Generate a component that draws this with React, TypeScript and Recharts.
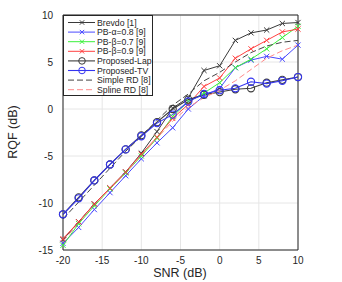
import React from 'react';
import { LineChart, Line, XAxis, YAxis, CartesianGrid, ReferenceArea, Label } from 'recharts';

const snr = [-20, -18, -16, -14, -12, -10, -8, -6, -4, -2, 0, 2, 4, 6, 8, 10];
const brevdo = [-13.9, -12.0, -10.1, -8.4, -6.7, -4.7, -2.4, 0.1, 1.2, 4.1, 4.6, 7.3, 8.1, 8.4, 9.1, 9.2];
const pbAlpha08 = [-14.3, -12.6, -10.7, -8.9, -7.1, -5.3, -3.6, -2.0, 0.0, 1.4, 2.2, 4.4, 5.2, 5.6, 5.3, 6.8];
const pbBeta07 = [-14.5, -12.2, -10.3, -8.5, -6.8, -5.0, -3.1, -0.8, 0.8, 1.7, 2.8, 4.4, 5.3, 6.4, 7.6, 8.8];
const pbBeta09 = [-13.8, -12.0, -10.1, -8.4, -6.7, -4.8, -3.0, -1.0, 0.5, 2.4, 3.3, 5.4, 6.4, 7.3, 8.2, 8.5];
const proposedLap = [-11.2, -9.4, -7.6, -5.9, -4.3, -2.8, -1.4, 0.0, 1.0, 1.5, 1.8, 2.1, 2.2, 2.8, 3.1, 3.4];
const proposedTV = [-11.2, -9.5, -7.6, -5.9, -4.3, -2.9, -1.5, -0.6, 0.8, 1.6, 2.0, 2.2, 2.9, 2.7, 3.0, 3.4];
const simpleRD = [-11.7, -9.9, -8.1, -6.3, -4.5, -2.9, -1.2, 0.4, 1.6, 3.0, 3.9, 5.0, 6.0, 6.7, 7.1, 7.3];
const splineRD = [-14.1, -12.1, -10.2, -8.5, -6.8, -4.9, -3.1, -1.3, 0.2, 1.2, 2.0, 3.0, 4.2, 5.4, 6.2, 6.8];

const xTicks = [-20, -15, -10, -5, 0, 5, 10];
const yTicks = [-15, -10, -5, 0, 5, 10];

const seriesNames = ['Brevdo [1]', 'PB-\u03b1=0.8 [9]', 'PB-\u03b2=0.7 [9]', 'PB-\u03b2=0.9 [9]', 'Proposed-Lap', 'Proposed-TV', 'Simple RD [8]', 'Spline RD [8]'];
const seriesValues = [brevdo, pbAlpha08, pbBeta07, pbBeta09, proposedLap, proposedTV, simpleRD, splineRD];

type Style = { color: string; marker: 'x' | 'o' | 'none'; dash?: string; width: number };
const styles: Style[] = [
  { color: '#3a3a3a', marker: 'x', width: 1 },
  { color: '#4a4aff', marker: 'x', width: 1 },
  { color: '#3cf03c', marker: 'x', width: 1 },
  { color: '#ff4242', marker: 'x', width: 1 },
  { color: '#3c3c3c', marker: 'o', width: 1.1 },
  { color: '#3535f0', marker: 'o', width: 1.1 },
  { color: '#444444', marker: 'none', dash: '6 3', width: 1 },
  { color: '#ff8a8a', marker: 'none', dash: '6 3', width: 1 },
];

const data = snr.map((s, i) => {
  const row: Record<string, number> = { snr: s };
  seriesNames.forEach((n, k) => {
    row['s' + k] = seriesValues[k][i];
  });
  return row;
});

const makeDot = (st: Style) => (props: any) => {
  const { cx, cy, index } = props;
  if (cx == null || cy == null) return <g key={index} />;
  if (st.marker === 'x') {
    const r = 2.6;
    return (
      <g key={index}>
        <line x1={cx - r} y1={cy - r} x2={cx + r} y2={cy + r} stroke={st.color} strokeWidth={1} />
        <line x1={cx - r} y1={cy + r} x2={cx + r} y2={cy - r} stroke={st.color} strokeWidth={1} />
      </g>
    );
  }
  if (st.marker === 'o') {
    return <circle key={index} cx={cx} cy={cy} r={3.6} fill="none" stroke={st.color} strokeWidth={1.1} />;
  }
  return <g key={index} />;
};

const font = 'Liberation Sans, Arial, sans-serif';

const LegendBox = () => {
  const rowH = 9.6;
  return (
    <svg width={92} height={82} style={{ display: 'block' }}>
      <rect x={0.5} y={0.5} width={89} height={80} fill="#ffffff" stroke="#262626" strokeWidth={1} />
      {seriesNames.map((n, k) => {
        const st = styles[k];
        const y = 7.5 + k * rowH;
        const mx = 19;
        return (
          <g key={n}>
            <line x1={5} x2={32} y1={y} y2={y} stroke={st.color} strokeWidth={st.width} strokeDasharray={st.dash} />
            {st.marker === 'x' && (
              <g>
                <line x1={mx - 2.2} y1={y - 2.2} x2={mx + 2.2} y2={y + 2.2} stroke={st.color} />
                <line x1={mx - 2.2} y1={y + 2.2} x2={mx + 2.2} y2={y - 2.2} stroke={st.color} />
              </g>
            )}
            {st.marker === 'o' && <circle cx={mx} cy={y} r={3.3} fill="none" stroke={st.color} />}
            <text x={34} y={y + 3.1} fontSize={8.7} fill="#262626" fontFamily={font}>{n}</text>
          </g>
        );
      })}
    </svg>
  );
};

export default function App() {
  return (
    <div style={{ position: 'absolute', left: 0, top: 0, width: 342, height: 282, background: '#fff' }}>
      <LineChart width={342} height={282} data={data} margin={{ top: 15, right: 44, bottom: 12, left: 23 }}>
        <CartesianGrid stroke="#e6e6e6" strokeWidth={1} />
        <XAxis
          dataKey="snr"
          type="number"
          domain={[-20, 10]}
          ticks={xTicks}
          height={20}
          axisLine={false}
          tickLine={false}
          tick={{ fontSize: 10, fill: '#262626', fontFamily: font }}
          tickMargin={1}
        >
          <Label
            content={() => (
              <text x={180} y={277} textAnchor="middle" fontSize={12.5} fill="#262626" fontFamily={font}>SNR (dB)</text>
            )}
          />
        </XAxis>
        <YAxis
          type="number"
          domain={[-15, 10]}
          ticks={yTicks}
          width={40}
          axisLine={false}
          tickLine={false}
          tick={{ fontSize: 10, fill: '#262626', fontFamily: font }}
          tickMargin={4}
        >
          <Label
            content={() => (
              <text x={17} y={132} transform="rotate(-90 17 132)" textAnchor="middle" fontSize={12.5} fill="#262626" fontFamily={font}>RQF (dB)</text>
            )}
          />
        </YAxis>
        <ReferenceArea x1={-20} x2={10} y1={-15} y2={10} fill="none" stroke="#262626" strokeWidth={1} ifOverflow="visible" />
        {seriesNames.map((n, k) => (
          <Line
            key={n}
            type="linear"
            dataKey={'s' + k}
            name={n}
            stroke={styles[k].color}
            strokeWidth={styles[k].width}
            strokeDasharray={styles[k].dash}
            dot={makeDot(styles[k])}
            activeDot={false}
            isAnimationActive={false}
          />
        ))}
      </LineChart>
      <div style={{ position: 'absolute', left: 63, top: 15 }}>
        <LegendBox />
      </div>
    </div>
  );
}
